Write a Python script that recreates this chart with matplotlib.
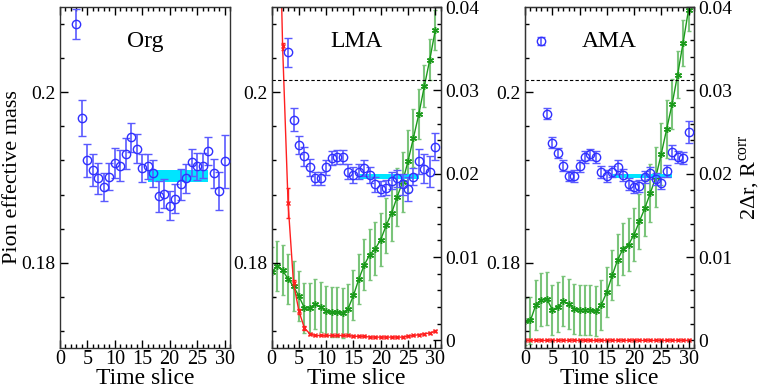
import numpy as np
import matplotlib
matplotlib.use("Agg")
import matplotlib.pyplot as plt
from matplotlib.ticker import MultipleLocator

plt.rcParams['font.family'] = ['Liberation Serif', 'DejaVu Serif']
plt.rcParams['mathtext.fontset'] = 'custom'
plt.rcParams['mathtext.rm'] = 'Liberation Serif'

# ---- data ----
t_mass = np.arange(3, 31)

org_mass = [0.2080, 0.1970, 0.1920, 0.1909, 0.1899, 0.1889, 0.1901, 0.1917, 0.1914, 0.1928,
            0.1947, 0.1934, 0.1911, 0.1913, 0.1905, 0.1878, 0.1881, 0.1867, 0.1875, 0.1892,
            0.1899, 0.1918, 0.1913, 0.1914, 0.1931, 0.1905, 0.1884, 0.1919]
org_err = [0.0018, 0.0021, 0.0019, 0.0019, 0.0018, 0.0016, 0.0016, 0.0018, 0.0018, 0.0018,
           0.0017, 0.0017, 0.0016, 0.0015, 0.0016, 0.0018, 0.0017, 0.0017, 0.0017, 0.0018,
           0.0017, 0.0016, 0.0016, 0.0015, 0.0016, 0.0017, 0.0022, 0.0031]

lma_mass = [0.2047, 0.1968, 0.1938, 0.1925, 0.1912, 0.1899, 0.1899, 0.1912, 0.1923, 0.1924,
            0.1924, 0.1907, 0.1903, 0.1907, 0.1911, 0.1903, 0.1892, 0.1887, 0.1888, 0.1896,
            0.1899, 0.1892, 0.1887, 0.1901, 0.1919, 0.1910, 0.1907, 0.1936]
lma_err = [0.0017, 0.0013, 0.0011, 0.0011, 0.0010, 0.0008, 0.0008, 0.0009, 0.0008, 0.0008,
           0.0008, 0.0009, 0.0009, 0.0009, 0.0009, 0.0009, 0.0009, 0.0009, 0.0009, 0.0010,
           0.0010, 0.0012, 0.0014, 0.0010, 0.0015, 0.0017, 0.0018, 0.0016]

ama_mass = [0.2060, 0.1975, 0.1941, 0.1929, 0.1914, 0.1902, 0.1902, 0.1913, 0.1924, 0.1927,
            0.1924, 0.1906, 0.1902, 0.1907, 0.1912, 0.1903, 0.1892, 0.1889, 0.1890, 0.1901,
            0.1905, 0.1898, 0.1894, 0.1908, 0.1930, 0.1924, 0.1923, 0.1953]
ama_err = [0.0005, 0.0006, 0.0006, 0.0006, 0.0006, 0.0006, 0.0007, 0.0007, 0.0007, 0.0007,
           0.0007, 0.0007, 0.0007, 0.0007, 0.0008, 0.0007, 0.0007, 0.0007, 0.0007, 0.0007,
           0.0007, 0.0007, 0.0007, 0.0007, 0.0008, 0.0007, 0.0007, 0.0013]

# fit bands (t range, centre, half width)
fit_t = [16, 27]
org_fit = (0.19017, 0.00075)
lma_fit = (0.19014, 0.00028)
ama_fit = (0.19020, 0.00025)
dashed_level = 0.20149

t_corr = np.arange(0, 31)
lma_dr = [0.1000, 0.0643, 0.0353, 0.0165, 0.0069, 0.0035, 0.0015, 0.0008, 0.0006, 0.0006,
          0.0006, 0.0006, 0.0006, 0.0006, 0.0006, 0.0005, 0.0005, 0.0005, 0.0004, 0.0004,
          0.0004, 0.0004, 0.0004, 0.0004, 0.0004, 0.0005, 0.0006, 0.0007, 0.0008, 0.0009,
          0.0011]
lma_dr_err = [0.002, 0.002, 0.0004, 0.0018, 0.0004, 0.0003, 0.0002, 0.0001, 0.0001, 0.0001,
              0.0001, 0.0001, 0.0001, 0.0001, 0.0001, 0.0001, 0.0001, 0.0001, 0.0001, 0.0001,
              0.0001, 0.0001, 0.0001, 0.0001, 0.0001, 0.0001, 0.0001, 0.0001, 0.0001, 0.0001,
              0.0001]
lma_rc = [0.0082, 0.0089, 0.0084, 0.0074, 0.0065, 0.0053, 0.0039, 0.0039, 0.0044, 0.0040,
          0.0035, 0.0034, 0.0034, 0.0033, 0.0038, 0.0054, 0.0074, 0.0091, 0.0103, 0.0110,
          0.0121, 0.0138, 0.0153, 0.0172, 0.0190, 0.0215, 0.0243, 0.0272, 0.0305, 0.0337,
          0.0372]
lma_rc_err = [0.0030, 0.0030, 0.0030, 0.0030, 0.0030, 0.0030, 0.0030, 0.0030, 0.0030, 0.0030,
              0.0030, 0.0030, 0.0030, 0.0030, 0.0030, 0.0030, 0.0030, 0.0031, 0.0031, 0.0032,
              0.0032, 0.0033, 0.0034, 0.0035, 0.0036, 0.0037, 0.0035, 0.0030, 0.0025, 0.0025,
              0.0024]

ama_dr = [0.0001] * 31
ama_dr_err = [0.00005] * 31
ama_rc = [0.0023, 0.0024, 0.0043, 0.0049, 0.0050, 0.0037, 0.0040, 0.0047, 0.0044, 0.0038,
          0.0037, 0.0037, 0.0037, 0.0035, 0.0043, 0.0058, 0.0078, 0.0097, 0.0110, 0.0115,
          0.0127, 0.0143, 0.0159, 0.0177, 0.0196, 0.0224, 0.0254, 0.0284, 0.0319, 0.0357,
          0.0397]
ama_rc_err = [0.0028, 0.0028, 0.0030, 0.0032, 0.0032, 0.0030, 0.0030, 0.0030, 0.0030, 0.0030,
              0.0030, 0.0030, 0.0030, 0.0030, 0.0030, 0.0030, 0.0030, 0.0031, 0.0031, 0.0032,
              0.0032, 0.0033, 0.0034, 0.0035, 0.0036, 0.0037, 0.0035, 0.0030, 0.0028, 0.0028,
              0.0026]

# ---- drawing ----
fig = plt.figure(figsize=(7.63, 3.89), dpi=100)
W, H = 763.0, 389.0
bottom, height = (H - 348) / H, 341 / H
lefts = [60, 271.7, 525]
width = 169 / W

ASTERISK = (6, 2, 0)


def style_axis(ax):
    ax.tick_params(direction='in', which='both', labelsize=14, top=True,
                   right=False, pad=3)
    ax.tick_params(axis='x', pad=1.5, labelsize=14.5)
    ax.tick_params(which='major', length=6, width=1)
    ax.tick_params(which='minor', length=3, width=1)
    for s in ax.spines.values():
        s.set_linewidth(1.0)
        s.set_color('#333333')


def mass_panel(ax, mass, err, fit, name):
    ax.fill_between(fit_t, fit[0] - fit[1], fit[0] + fit[1], color='#00e5ff', lw=0, zorder=1)
    ax.errorbar(t_mass, mass, yerr=err, fmt='o', ms=6, mfc='none', mec='#3030ff', mew=1.0,
                ecolor='#5a5aff', elinewidth=1.2, capsize=3, capthick=1.2, zorder=3)
    ax.set_xlim(0, 31)
    ax.set_ylim(0.17, 0.21)
    ax.xaxis.set_major_locator(MultipleLocator(5))
    ax.xaxis.set_minor_locator(MultipleLocator(1))
    ax.yaxis.set_minor_locator(MultipleLocator(0.004))
    ax.set_yticks([0.18, 0.2])
    ax.set_yticklabels(['0.18', '0.2'])
    ax.set_xlabel('Time slice', fontsize=17, labelpad=-1)
    ax.text(0.5, 0.9, name, transform=ax.transAxes, ha='center', va='center', fontsize=17)
    style_axis(ax)


def corr_panel(ax, dr, dr_err, rc, rc_err):
    ax2 = ax.twinx()
    ax2.errorbar(t_corr, rc, yerr=rc_err, fmt='-', color='#1a9a1a', lw=1.0,
                 marker=ASTERISK, ms=5, mew=1.0, ecolor='#7ac47a', elinewidth=1.5,
                 capsize=1.5, zorder=2)
    ax2.errorbar(t_corr, dr, yerr=dr_err, fmt='-', color='#ff2020', lw=1.0,
                 marker='x', ms=3.5, mew=1.0, ecolor='#ff2020', elinewidth=1.0,
                 capsize=1.5, zorder=2)
    ax2.set_ylim(-0.0009, 0.04)
    ax2.set_xlim(0, 31)
    ax2.yaxis.set_minor_locator(MultipleLocator(0.002))
    ax2.set_yticks([0, 0.01, 0.02, 0.03, 0.04])
    ax2.set_yticklabels(['0', '0.01', '0.02', '0.03', '0.04'])
    ax2.tick_params(direction='in', which='both', labelsize=14, pad=3)
    ax2.tick_params(which='major', length=6, width=1)
    ax2.tick_params(which='minor', length=3, width=1)
    ax.axhline(dashed_level, color='black', lw=0.8, ls=(0, (3, 2)), zorder=2)
    return ax2


ax1 = fig.add_axes([lefts[0] / W, bottom, 170 / W, height])
mass_panel(ax1, org_mass, org_err, org_fit, 'Org')
ax1.set_ylabel('Pion effective mass', fontsize=16, labelpad=0)

ax2 = fig.add_axes([lefts[1] / W, bottom, width, height])
mass_panel(ax2, lma_mass, lma_err, lma_fit, 'LMA')
r2 = corr_panel(ax2, lma_dr, lma_dr_err, lma_rc, lma_rc_err)

ax3 = fig.add_axes([lefts[2] / W, bottom, width, height])
mass_panel(ax3, ama_mass, ama_err, ama_fit, 'AMA')
r3 = corr_panel(ax3, ama_dr, ama_dr_err, ama_rc, ama_rc_err)
r3.set_ylabel('2Δr, R$^{\\rm corr}$', fontsize=16, labelpad=4)

# keep the mass data above the twin axis
for a, r in [(ax2, r2), (ax3, r3)]:
    a.set_zorder(r.get_zorder() + 1)
    a.patch.set_visible(False)

fig.savefig('out.png', dpi=100)
